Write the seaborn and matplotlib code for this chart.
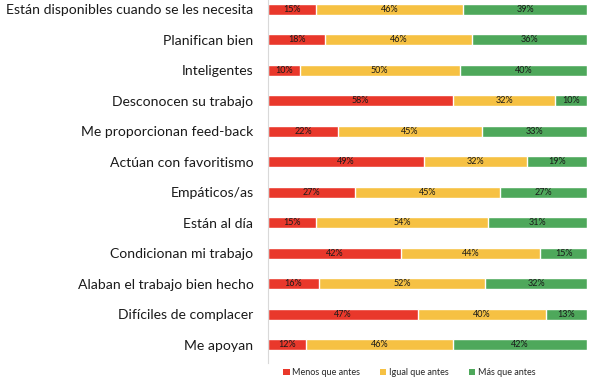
import pandas as pd
import seaborn as sns
import matplotlib.pyplot as plt
from matplotlib.patches import Patch

categories = ['Están disponibles cuando se les necesita', 'Planifican bien', 'Inteligentes',
              'Desconocen su trabajo', 'Me proporcionan feed-back', 'Actúan con favoritismo',
              'Empáticos/as', 'Están al día', 'Condicionan mi trabajo',
              'Alaban el trabajo bien hecho', 'Difíciles de complacer', 'Me apoyan']
menos = [15, 18, 10, 58, 22, 49, 27, 15, 42, 16, 47, 12]
igual = [46, 46, 50, 32, 45, 32, 45, 54, 44, 52, 40, 46]
mas = [39, 36, 40, 10, 33, 19, 27, 31, 15, 32, 13, 42]
series_names = ['Menos que antes', 'Igual que antes', 'Más que antes']
COLORS = ['#E9382B', '#F6C143', '#4EA85B']

df = pd.DataFrame({'cat': categories, 'menos': menos, 'igual': igual, 'mas': mas})
total = df[['menos', 'igual', 'mas']].sum(axis=1)
# Excel 100% stacked: widths normalised by row total
df['c1'] = df['menos'] / total * 100
df['c2'] = (df['menos'] + df['igual']) / total * 100
df['c3'] = 100.0

sns.set_style('white')
plt.rcParams['font.family'] = ['Lato', 'DejaVu Sans']

fig = plt.figure(figsize=(5.89, 3.81), dpi=100)
ax = fig.add_axes([0.455, 0.047, 0.542, 0.961])

for col, color in zip(['c3', 'c2', 'c1'], COLORS[::-1]):
    sns.barplot(data=df, y='cat', x=col, color=color, orient='h', width=0.37,
                saturation=1, ax=ax, order=categories)

# percentage labels
for i, row in df.iterrows():
    starts = [0, row['c1'], row['c2']]
    ends = [row['c1'], row['c2'], row['c3']]
    for s, e, v in zip(starts, ends, [row['menos'], row['igual'], row['mas']]):
        ax.text((s + e) / 2, i, f'{v}%', ha='center', va='center', fontsize=6.5, color='#1a1a1a')

ax.set_xlim(0, 100)
ax.set_ylim(11.6, -0.4)
ax.set_xlabel('')
ax.set_ylabel('')
ax.set_xticks([])
ax.tick_params(axis='y', length=0, labelsize=10.1, pad=10.5, colors='#1a1a1a')
for side in ['top', 'right', 'bottom']:
    ax.spines[side].set_visible(False)
ax.spines['left'].set_color('#D9D9D9')
ax.spines['left'].set_linewidth(0.8)

handles = [Patch(facecolor=c, edgecolor='none') for c in COLORS]
fig.legend(handles, series_names, loc='lower center', bbox_to_anchor=(0.695, -0.012), ncol=3,
           frameon=False, fontsize=6.5, handlelength=0.7, handleheight=0.7,
           handletextpad=0.3, columnspacing=2.2)

plt.savefig('out.png', dpi=100)
plt.close()
